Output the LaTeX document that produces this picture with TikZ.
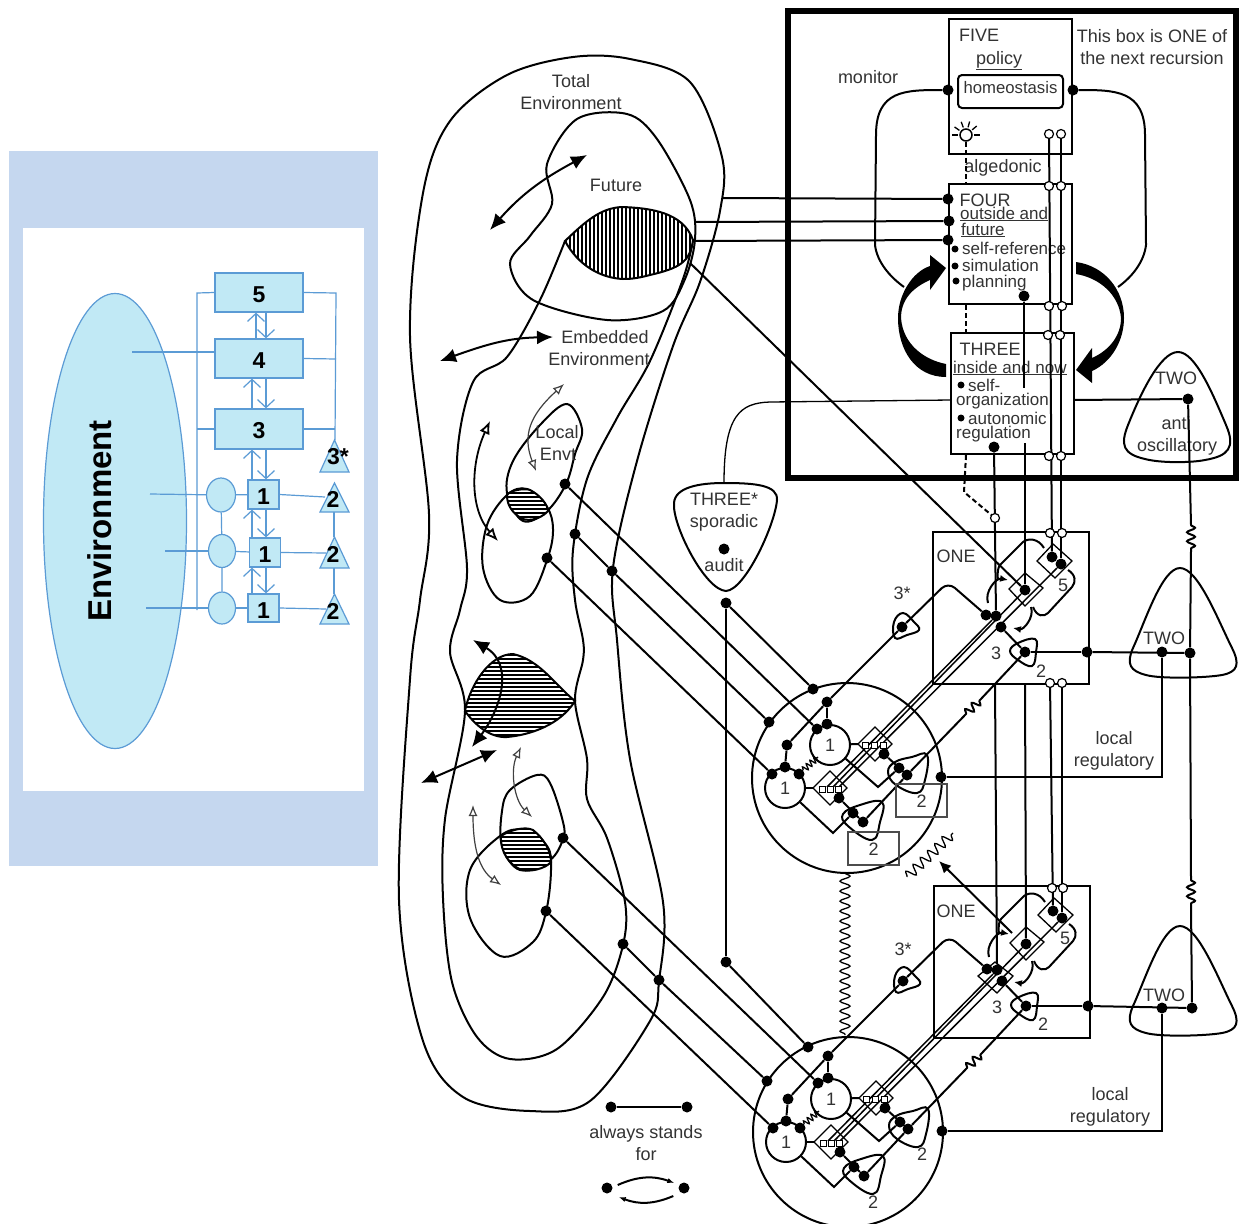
\documentclass[tikz,border=0pt]{standalone}
\usepackage{fontspec}
\setmainfont{Liberation Sans}
\usetikzlibrary{arrows.meta,decorations.pathmorphing,shapes.geometric}
\definecolor{panelblue}{HTML}{C5D7EF}
\definecolor{boxblue}{HTML}{C1E9F5}
\definecolor{lineblue}{HTML}{5B9BD5}
\begin{document}
\begin{tikzpicture}[x=1pt,y=-1pt,>=Latex,
wire/.style={line width=2pt},
thinwire/.style={line width=1.3pt},
rail/.style={line width=1.5pt},
stripe/.style={line width=1.8pt},
alg/.style={line width=2pt,dash pattern=on 5pt off 3pt},
blob/.style={circle,fill=black,inner sep=0pt,minimum size=11pt},
hollow/.style={circle,draw,fill=white,line width=1.2pt,inner sep=0pt,minimum size=9pt},
sysbox/.style={draw,line width=2pt,fill=white,inner sep=0pt},
lbl/.style={font=\fontsize{18}{20}\selectfont,text=black!80,inner sep=0pt,text height=17pt,text depth=4pt},
tight/.style={font=\fontsize{17}{19}\selectfont,text=black!80,inner sep=0pt,anchor=base west},
bigarrow/.style={line width=2pt,{Latex[length=16pt,width=14pt]}-{Latex[length=16pt,width=14pt]}},
openbig/.style={line width=1.8pt,{Latex[open,length=13pt,width=11pt]}-{Latex[open,length=13pt,width=11pt]}},
openarrow/.style={line width=1.2pt,draw=black!75,{Latex[open,length=11pt,width=9pt]}-{Latex[open,length=11pt,width=9pt]}},
spring/.style={decoration={snake,segment length=9pt,amplitude=4pt}},
bluebox/.style={draw=lineblue,line width=1.2pt,fill=boxblue,inner sep=0pt,font=\fontsize{23}{25}\bfseries\selectfont,text height=20pt},
blueball/.style={draw=lineblue,line width=1.2pt,fill=boxblue,ellipse,inner sep=0pt},
blueline/.style={draw=lineblue,line width=1.2pt},
barb/.style={draw=lineblue,line width=1.2pt,-{Straight Barb[length=8pt,width=17pt]}},
bluetext/.style={font=\fontsize{23}{25}\bfseries\selectfont,inner sep=0pt}]
\useasboundingbox (0,0) rectangle (1244,1223);
\fill[white] (0,0) rectangle (1244,1223);
% left panel
\fill[panelblue] (9,151) rectangle (378,866);
\fill[white] (23,228) rectangle (364,791);
\node[blueball,minimum width=143pt,minimum height=455pt] (env) at (115,521) {};
\node[rotate=90,font=\fontsize{33}{35}\bfseries\selectfont,inner sep=0pt] (envtext) at (100,521) {Environment};
\node[bluebox,minimum width=88pt,minimum height=39pt] (box5) at (259,292.5) {5};
\node[bluebox,minimum width=88pt,minimum height=39pt] (box4) at (259,358.5) {4};
\node[bluebox,minimum width=88pt,minimum height=40pt] (box3) at (259,429) {3};
\node[bluebox,minimum width=31pt,minimum height=29pt] (sq1) at (263.5,494.5) {1};
\node[bluebox,minimum width=31pt,minimum height=29pt] (sq2) at (265,552.5) {1};
\node[bluebox,minimum width=31pt,minimum height=28pt] (sq3) at (263.5,608) {1};
\node[blueball,minimum width=29pt,minimum height=34pt] (cir1) at (221,495) {};
\node[blueball,minimum width=27pt,minimum height=33pt] (cir2) at (222,551) {};
\node[blueball,minimum width=27pt,minimum height=32pt] (cir3) at (222,608) {};
\foreach \nm/\px/\py in {e4/132/352,e1/150/494,e2/165/551,e3/146/608,busa/197/293,busb/197/610,busc/197/429,
  busd/336/293,buse/335/440,busf/336/359,busg/335/429,tria/325/497,trib/326/553,tric/326/609,
  tv1/334/512,tv2/334/537,tv3/334/568,tv4/334/594}
  \coordinate (\nm) at (\px,\py);
\draw[blueline] (e4) -- (box4.west |- e4);
\draw[blueline] (e1) -- (cir1);
\draw[blueline] (e2) -- (cir2);
\draw[blueline] (e3) -- (cir3);
\draw[blueline] (box5.west) -- (busa) -- (busb);
\draw[blueline] (busc) -- (box3.west);
\draw[blueline] (box5.east) -- (busd) -- (buse);
\draw[blueline] (box4.east) -- (busf);
\draw[blueline] (box3.east) -- (busg);
\draw[blueline] (cir1) -- (cir2) -- (cir3);
\draw[blueline] (cir1) -- (sq1);
\draw[blueline] (cir2) -- (sq2);
\draw[blueline] (cir3) -- (sq3);
\draw[blueline] (sq1.east) -- (tria);
\draw[blueline] (sq2.east) -- (trib);
\draw[blueline] (sq3.east) -- (tric);
\draw[blueline] (tv1) -- (tv2);
\draw[blueline] (tv3) -- (tv4);
\foreach \lo/\hi/\up/\dn in {box4/box5/256/266,box3/box4/252/266,sq1/box3/252/266,sq2/sq1/252/266,sq3/sq2/252/266}{
  \draw[barb] (\up,0 |- \lo.north) -- (\up,0 |- \hi.south);
  \draw[barb] (\dn,0 |- \hi.south) -- (\dn,0 |- \lo.north);
}
\foreach \py/\hy in {472/32,512/29,568/31,624/30}
  \draw[draw=lineblue,line width=1.2pt,fill=boxblue] (320,\py) -- (334.5,\py-\hy) -- (349,\py) -- cycle;
\node[bluetext] (t3star) at (338,457) {3*};
\node[bluetext] (t2a) at (333,499) {2};
\node[bluetext] (t2b) at (333,554) {2};
\node[bluetext] (t2c) at (333,611) {2};
% environments
\draw[wire] plot[smooth cycle,tension=.55] coordinates {(573,57) (630,59) (690,82) (722,157) (720,211) (700,282) (673,346) (637,461) (613,568) (617,640) (630,759) (663,902) (659,981) (650,1021) (590,1101) (530,1111) (463,1097) (423,1041) (399,900) (410,679) (420,600) (429,514) (410,336) (423,193) (450,121) (507,75)};
\draw[wire] plot[smooth,tension=.55] coordinates {(565,241) (540,300) (507,357) (473,382) (457,461) (467,568) (460,610) (450,652) (465,711) (445,819) (443,898) (452,982) (477,1037) (510,1059) (557,1049) (603,997) (623,945) (625,902) (607,838) (587,799) (587,759) (575,701) (583,660) (583,640) (575,600) (573,550) (587,479) (617,418) (650,361) (683,279) (693,240)};
\draw[wire] plot[smooth cycle,tension=.55] coordinates {(627,114) (577,119) (547,164) (552,204) (530,236) (510,264) (533,300) (607,320) (663,311) (685,279) (695,239) (690,200) (657,139)};
\draw[wire] plot[smooth cycle,tension=.6] coordinates {(567,404) (540,425) (513,461) (507,493) (523,521) (547,511) (566,484) (575,454) (582,429)};
\draw[wire] plot[smooth cycle,tension=.6] coordinates {(507,495) (487,525) (483,568) (500,600) (530,596) (548,557) (553,529) (547,507) (527,489)};
\draw[wire] plot[smooth cycle,tension=.6] coordinates {(537,775) (510,790) (502,811) (502,846) (520,870) (550,860) (563,839) (563,822) (550,783)};
\draw[wire] plot[smooth cycle,tension=.6] coordinates {(500,836) (470,870) (470,918) (500,956) (533,942) (546,912) (551,870) (547,846) (523,830)};
\begin{scope}
\clip (565,241) .. controls (585,222) and (600,208) .. (622,207) .. controls (650,208) and (683,212) .. (693,240) .. controls (690,262) and (680,268) .. (650,275) .. controls (635,279) and (628,279) .. (623,279) .. controls (600,278) and (578,265) .. (565,241) -- cycle;
\fill[white] (560,200) rectangle (700,285);
\foreach \px in {566,570,...,694}
  \draw[stripe] (\px,200) -- (\px,285);
\end{scope}
\draw[wire] (565,241) .. controls (585,222) and (600,208) .. (622,207) .. controls (650,208) and (683,212) .. (693,240) .. controls (690,262) and (680,268) .. (650,275) .. controls (635,279) and (628,279) .. (623,279) .. controls (600,278) and (578,265) .. (565,241) -- cycle;
\begin{scope}
\clip (507,495) .. controls (510,490) and (525,488) .. (530,490) .. controls (540,495) and (548,505) .. (548,511) .. controls (540,520) and (525,523) .. (518,516) .. controls (510,510) and (507,503) .. (507,495) -- cycle;
\fill[white] (500,485) rectangle (555,525);
\foreach \py in {489,493,...,525}
  \draw[stripe] (500,\py) -- (555,\py);
\end{scope}
\draw[wire] (507,495) .. controls (510,490) and (525,488) .. (530,490) .. controls (540,495) and (548,505) .. (548,511) .. controls (540,520) and (525,523) .. (518,516) .. controls (510,510) and (507,503) .. (507,495) -- cycle;
\begin{scope}
\clip (465,711) .. controls (470,685) and (490,654) .. (513,654) .. controls (540,660) and (555,685) .. (575,701) .. controls (560,725) and (530,735) .. (507,737) .. controls (490,738) and (475,725) .. (465,711) -- cycle;
\fill[white] (460,650) rectangle (580,740);
\foreach \py in {655,659,...,740}
  \draw[stripe] (460,\py) -- (580,\py);
\end{scope}
\draw[wire] (465,711) .. controls (470,685) and (490,654) .. (513,654) .. controls (540,660) and (555,685) .. (575,701) .. controls (560,725) and (530,735) .. (507,737) .. controls (490,738) and (475,725) .. (465,711) -- cycle;
\begin{scope}
\clip (501,836) .. controls (510,830) and (525,826) .. (533,830) .. controls (543,838) and (551,850) .. (551,862) .. controls (545,869) and (530,872) .. (522,870) .. controls (510,866) and (500,852) .. (501,836) -- cycle;
\fill[white] (495,825) rectangle (555,875);
\foreach \py in {829,833,...,875}
  \draw[stripe] (495,\py) -- (555,\py);
\end{scope}
\draw[wire] (501,836) .. controls (510,830) and (525,826) .. (533,830) .. controls (543,838) and (551,850) .. (551,862) .. controls (545,869) and (530,872) .. (522,870) .. controls (510,866) and (500,852) .. (501,836) -- cycle;
\foreach \nm/\px/\py in {f1/490/230,f2/587/155,g1/440/361,g2/553/337,h1/473/640,h2/472/747,i1/421/783,i2/497/750,
  j1/490/421,j2/498/541,k1/564/384,k2/536/471,m1/521/747,m2/532/817,n1/473/805,n2/501/885}
  \coordinate (\nm) at (\px,\py);
\draw[bigarrow] (f1) .. controls (525,190) and (550,175) .. (f2);
\draw[bigarrow] (g1) .. controls (490,343) and (510,338) .. (g2);
\draw[bigarrow] (h1) .. controls (515,665) and (500,710) .. (h2);
\draw[bigarrow] (i1) -- (i2);
\draw[openbig] (j1) .. controls (470,465) and (470,510) .. (j2);
\draw[openarrow] (k1) .. controls (530,415) and (522,435) .. (k2);
\draw[openarrow] (m1) .. controls (510,770) and (514,800) .. (m2);
\draw[openarrow] (n1) .. controls (473,850) and (480,870) .. (n2);
\node[lbl] (total1) at (571,81) {Total};
\node[lbl] (total2) at (571,103) {Environment};
\node[lbl] (future) at (616,185) {Future};
\node[lbl] (embed1) at (605,337) {Embedded};
\node[lbl] (embed2) at (599,359) {Environment};
\node[lbl] (local1) at (557,432) {Local};
\node[lbl] (local2) at (558,454) {Envt};
% the box of the next recursion
\node[draw,line width=6.5pt,minimum width=448pt,minimum height=467pt,inner sep=0pt] (nextbox) at (1012,244.5) {};
\node[sysbox,minimum width=123pt,minimum height=135pt] (five) at (1010.5,86.5) {};
\node[sysbox,minimum width=123pt,minimum height=120pt] (four) at (1010.5,244) {};
\node[sysbox,minimum width=123pt,minimum height=121pt] (three) at (1012.5,393.5) {};
\node[draw,line width=2pt,rounded corners=4pt,minimum width=105pt,minimum height=33pt,inner sep=0pt] (homeo) at (1010.5,91.5) {};
\node[inner sep=0pt,font=\fontsize{16.7}{18}\selectfont,text=black!80] (homeotext) at (1010.5,88) {homeostasis};
\node[lbl] (fivetext) at (979,35) {FIVE};
\node[lbl] (policy) at (999,58) {\underline{policy}};
\node[lbl] (monitor) at (868,77) {monitor};
\node[lbl] (note1) at (1152,36) {This box is ONE of};
\node[lbl] (note2) at (1152,58) {the next recursion};
\node[lbl] (algedonic) at (1003,166) {algedonic};
\node[lbl] (fourtext) at (985,200) {FOUR};
\node[tight] (outside) at (960,219) {\underline{outside and}};
\node[tight] (futuretext) at (961,235) {\underline{future}};
\node[tight] (selfref) at (962,254) {self-reference};
\node[tight] (simul) at (962,271) {simulation};
\node[tight] (plan) at (962,287) {planning};
\node[lbl] (threetext) at (990,349) {THREE};
\node[tight] (inside) at (953,373) {\underline{inside and now}};
\node[tight] (selforg) at (968,391) {self-};
\node[tight] (org) at (956,405) {organization};
\node[tight] (auton) at (968,424) {autonomic};
\node[tight] (regul) at (956,438) {regulation};
\foreach \nm/\px/\py in {bu1/955/249,bu2/955/266,bu3/956/281,bu4/961/385,bu5/961/418}
  \node[circle,fill=black,inner sep=0pt,minimum size=7pt] (\nm) at (\px,\py) {};
\node[circle,draw,line width=1.5pt,fill=white,inner sep=0pt,minimum size=12pt] (sun) at (966,135) {};
\foreach \a in {180,215,250,285,320,0}
  \draw[thinwire] (sun)+(\a:8) -- +(\a:14);
\foreach \nm/\px/\py in {mon1/948/90,mon2/1073/90,in1/948/199,in2/949/221,in3/948/240,
  pl/1024/296,au/994/447,two/1188/399}
  \node[blob] (\nm) at (\px,\py) {};
\foreach \nm/\px/\py in {mon3/904/287,mon4/1118/287,fa/723/198,fb/695/222,fc/692/241,
  pl2/1024/388,pl3/1025/443,thl/951/400,thtop/724/483,thr/1073/400,algk/964/492,
  va1/1049/134,vb1/1061/134,va2/1050/683,vb2/1062/683,vc/995/685,vd/1025/685}
  \coordinate (\nm) at (\px,\py);
\draw[wire] (mon1) .. controls (905,90) and (876,90) .. (876,135) -- (875,245) .. controls (877,262) and (890,277) .. (mon3);
\draw[wire] (mon2) .. controls (1115,90) and (1145,90) .. (1145,135) -- (1146,245) .. controls (1144,262) and (1132,277) .. (mon4);
\draw[wire] (fa) -- (in1);
\draw[wire] (fb) -- (in2);
\draw[wire] (fc) -- (in3);
\draw[wire] (pl) -- (pl2);
\draw[thinwire] (thl) -- (770,402) .. controls (740,403) and (724,415) .. (thtop);
\draw[wire] (thr) -- (two);
\fill (946,377) .. controls (915,377) and (898,350) .. (898,318) .. controls (898,295) and (912,272) .. (930,266) -- (930,255) -- (946,268) -- (930,290) -- (930,280) .. controls (912,288) and (901,300) .. (901,318) .. controls (903,345) and (925,360) .. (946,364) -- cycle;
\fill (1076,262) .. controls (1105,266) and (1124,290) .. (1124,318) .. controls (1124,340) and (1112,362) .. (1092,371) -- (1092,383) -- (1076,370) -- (1092,348) -- (1092,358) .. controls (1110,350) and (1121,335) .. (1121,318) .. controls (1119,295) and (1100,278) .. (1076,274) -- cycle;
% the shapes named two and three star
\draw[wire] (1178,352) .. controls (1195,352) and (1212,392) .. (1226,425) .. controls (1236,448) and (1228,456) .. (1205,460) .. controls (1190,463) and (1160,463) .. (1145,459) .. controls (1123,454) and (1120,445) .. (1128,425) .. controls (1140,395) and (1160,352) .. (1178,352) -- cycle;
\node[lbl] (twotext) at (1176,378) {TWO};
\node[lbl] (anti) at (1176,423) {anti};
\node[lbl] (oscill) at (1177,445) {oscillatory};
\draw[wire] (724,483) .. controls (755,483) and (778,485) .. (777,500) .. controls (775,525) and (745,590) .. (726,591) .. controls (705,590) and (672,525) .. (674,503) .. controls (675,487) and (700,483) .. (724,483) -- cycle;
\node[lbl] (starone) at (724,499) {THREE*};
\node[lbl] (startwo) at (724,521) {sporadic};
\node[blob] (audot) at (724,549) {};
\node[lbl] (audit) at (724,565) {audit};
\foreach \dy in {0,358}
  \draw[wire,shift={(0,\dy)}] (1180,568) .. controls (1198,568) and (1218,620) .. (1232,648) .. controls (1240,664) and (1238,672) .. (1222,675) .. controls (1205,678) and (1160,679) .. (1146,675) .. controls (1130,671) and (1126,664) .. (1133,648) .. controls (1145,622) and (1162,568) .. (1180,568) -- cycle;
\node[lbl] (twoa) at (1164,638) {TWO};
\node[lbl] (twob) at (1164,995) {TWO};
% both recursions below
\foreach \u/\dx/\dy in {a/0/0,b/1/354}{
\begin{scope}[shift={(\dx,\dy)}]
\node[draw,line width=2pt,circle,minimum size=190pt,inner sep=0pt] (\u-sys) at (847,778) {};
\node[draw,line width=2pt,minimum width=156pt,minimum height=152pt,inner sep=0pt] (\u-one) at (1011,608) {};
\node[lbl,draw,line width=2pt,circle,fill=white,minimum size=40pt] (\u-c1) at (830,745) {1};
\node[lbl,draw,line width=2pt,circle,fill=white,minimum size=40pt] (\u-c2) at (785,788) {1};
\foreach \nm/\px/\py in {in1/817/729,in2/772/774,up/827/702,cone/827/724,lf/787/745,ctwo/785/767,
  spr/799/774,d3/986/615,d4/996/616,dm/1025/590,d5/1052/557,d6/1061/564,d7/1001/627,d8/1025/652,d9/1087/652,
  st/902/627,low1/884/754,low2/899/768,low3/907/775,low4/839/798,low5/853/813,low6/863/822,out/941/777}
  \node[blob] (\u-\nm) at (\px,\py) {};
\foreach \nm/\px/\py in {apex/948/582,ra/827/787,rb/833/787,rc/839/787,bend1/878/787,bend2/833/833,
  s1/966/714,s2/980/700,s4/818/757,ar1/988/603,ar2/1008/580,ar3/1031/607,ar4/1013/628,c1r/858/744,c2r/813/788}
  \coordinate (\u-\nm) at (\px,\py);
\draw[wire] (\u-lf) -- (\u-up) -- (\u-st);
\draw[wire,rounded corners=9pt] (\u-st) -- (\u-apex) -- (\u-d3);
\draw[wire] (\u-up) -- (\u-cone);
\draw[wire] (\u-lf) -- (\u-ctwo);
\draw[rail] (\u-ra) -- (\u-d4);
\draw[rail] (\u-rb) -- (\u-dm);
\draw[rail] (\u-rc) -- (\u-d6);
\draw[wire] (\u-c1) -- (\u-c1r);
\draw[wire] (\u-c2) -- (\u-c2r);
\draw[wire] (\u-low1) -- (\u-low3);
\draw[wire] (\u-c1) -- (\u-bend1) -- (\u-low2);
\draw[wire] (\u-low4) -- (\u-low6);
\draw[wire] (\u-c2) -- (\u-bend2) -- (\u-low5);
\draw[wire] (\u-low6) -- (\u-low3);
\draw[wire] (\u-low3) -- (\u-s1) decorate[spring] {-- (\u-s2)} -- (\u-d8);
\draw[thinwire] (\u-spr) decorate[decoration={snake,segment length=5pt,amplitude=3pt}] {-- (\u-s4)};
\draw[wire] (\u-d7) -- (\u-d8);
\draw[wire] (\u-d8) -- (\u-d9);
\draw[wire,-{Latex[length=8pt,width=7pt]}] (\u-ar1) to[bend left=60] (\u-ar2);
\draw[wire,-{Latex[length=8pt,width=7pt]}] (\u-ar3) to[bend left=60] (\u-ar4);
% rounded shapes round the two and three star dots
\draw[wire] plot[smooth cycle,tension=.7] coordinates {(903,613) (894,622) (895,638) (907,635) (919,630) (914,622)};
\draw[wire] plot[smooth cycle,tension=.7] coordinates {(1035,639) (1018,643) (1010,651) (1018,660) (1032,666) (1036,652)};
\draw[wire] plot[smooth cycle,tension=.7] coordinates {(927,755) (912,757) (895,762) (888,772) (896,785) (917,793) (925,780)};
\draw[wire] plot[smooth cycle,tension=.7] coordinates {(882,802) (860,805) (843,814) (848,826) (872,840) (880,822)};
\draw[wire] (998,580) .. controls (997,572) and (998,568) .. (1000,565) -- (1023,542) .. controls (1028,538) and (1038,538) .. (1044,548);
\draw[wire] (1068,570) .. controls (1076,575) and (1076,582) .. (1072,587) -- (1048,613) .. controls (1044,617) and (1037,617) .. (1033,607);
% small boxes on the rails
\draw[thinwire] (1053,544) -- (1072,561) -- (1055,578) -- (1037,561) -- cycle;
\draw[thinwire] (1025,573) -- (1043,588) -- (1025,606) -- (1009,589) -- cycle;
\draw[thinwire] (875,727) -- (892,744) -- (875,761) -- (858,744) -- cycle;
\draw[thinwire] (830,771) -- (847,788) -- (830,805) -- (813,788) -- cycle;
\foreach \px in {865,874,883}
  \draw[line width=1pt,fill=white] (\px-3,742) rectangle (\px+3,748);
\foreach \px in {822,830,838}
  \draw[line width=1pt,fill=white] (\px-3,786) rectangle (\px+3,792);
\end{scope}
}
\draw[thinwire] (995,962) -- (1013,976) -- (997,993) -- (978,976) -- cycle;
\foreach \nm/\px/\py in {sp1/845/873,sp2/845/1035,sp3/907/877,sp4/953/833,two1/1191/525,two2/1191/550,
  two3/1191/880,two4/1191/905,tip/939/861,tail/1012/933,hatchend/690/263,algo/995/518}
  \coordinate (\nm) at (\px,\py);
\draw[thinwire] (sp1) decorate[decoration={snake,segment length=10pt,amplitude=5pt}] {-- (sp2)};
\draw[thinwire] (sp3) decorate[decoration={snake,segment length=10pt,amplitude=5pt}] {-- (sp4)};
\node[blob] (twodot) at (1190,653) {};
\node[blob] (twodotb) at (1192,1008) {};
\node[blob] (regdot) at (1162,652) {};
\node[blob] (regdotb) at (1162,1008) {};
\draw[wire] (two) -- (two1) decorate[spring] {-- (two2)} -- (twodot);
\draw[wire] (twodot) -- (two3) decorate[spring] {-- (two4)} -- (twodotb);
\draw[wire] (a-d9) -- (twodot);
\draw[wire] (b-d9) -- (twodotb);
\draw[wire] (a-out) -| (regdot);
\draw[wire] (b-out) -| (regdotb);
\draw[wire,-{Latex[length=12pt,width=11pt]}] (tail) -- (tip);
% inputs from the environments
\foreach \nm/\px/\py in {lca/565/484,lcb/547/558,lcc/575/534,lcd/612/571,lce/563/838,lcf/546/911,lcg/623/944,lch/659/980,aua/726/603,aub/726/962,
  a-top/813/689,a-rim/769/722,b-top/808/1047,b-rim/767/1081}
  \node[blob] (\nm) at (\px,\py) {};
\draw[wire] (aua) -- (aub);
\draw[wire] (aua) -- (a-top);
\draw[wire] (aub) -- (b-top);
\draw[wire] (lca) -- (a-in1);
\draw[wire] (lcb) -- (a-in2);
\draw[wire] (lcc) -- (lcd) -- (a-rim);
\draw[wire] (lce) -- (b-in1);
\draw[wire] (lcf) -- (b-in2);
\draw[wire] (lcg) -- (lch) -- (b-rim);
\draw[wire] (hatchend) -- (a-dm);
% the algedonic line and the long verticals
\draw[alg] (sun) -- (sun |- four.north);
\draw[alg] (sun |- four.south) -- (sun |- three.north);
\draw[alg] (sun |- three.south) -- (algk) -- (algo);
\draw[wire] (va1) -- (a-d5);
\draw[wire] (vb1) -- (a-d6);
\draw[wire] (va2) -- (b-d5);
\draw[wire] (vb2) -- (b-d6);
\draw[wire] (au) -- (a-d4);
\draw[wire] (vc) -- (b-d4);
\draw[wire] (pl3) -- (a-dm);
\draw[wire] (vd) -- (b-dm);
\foreach \px/\py in {1049/134,1061/134,1049/186,1061/186,1049/306,1062/306,1048/335,1060/335,1049/456,1061/456,1050/533,1062/533,995/518,1050/683,1062/683,1052/888,1063/888}
  \node[hollow] (hole-\px-\py) at (\px,\py) {};
% labels below
\node[lbl] (onea) at (956,556) {ONE};
\node[lbl] (oneb) at (956,911) {ONE};
\node[lbl] (stara) at (902,593) {3*};
\node[lbl] (starb) at (903,949) {3*};
\node[lbl] (threea) at (996,653) {3};
\node[lbl] (threeb) at (997,1007) {3};
\node[lbl] (fivea) at (1063,585) {5};
\node[lbl] (fiveb) at (1065,938) {5};
\node[lbl] (twoaa) at (1041,671) {2};
\node[lbl] (twobb) at (1043,1024) {2};
\node[lbl,draw=black!70,line width=1.2pt,minimum width=51pt,minimum height=33pt] (recta) at (921.5,800.5) {2};
\node[lbl,draw=black!70,line width=1.2pt,minimum width=51pt,minimum height=33pt] (rectb) at (873.5,848.5) {2};
\node[lbl] (twoc) at (922,1154) {2};
\node[lbl] (twod) at (873,1202) {2};
\node[lbl] (locala) at (1114,738) {local};
\node[lbl] (regula) at (1114,760) {regulatory};
\node[lbl] (localb) at (1110,1094) {local};
\node[lbl] (regulb) at (1110,1116) {regulatory};
% legend
\node[blob] (lega) at (611,1107) {};
\node[blob] (legb) at (687,1107) {};
\node[blob] (legc) at (607,1188) {};
\node[blob] (legd) at (684,1188) {};
\draw[wire] (lega) -- (legb);
\draw[wire,-{Latex[length=7pt]}] ([xshift=5pt,yshift=3pt]legc.east) to[bend left=22] ([xshift=-4pt,yshift=5pt]legd.west);
\draw[wire,-{Latex[length=7pt]}] ([xshift=-5pt,yshift=-8pt]legd.west) to[bend left=22] ([xshift=6pt,yshift=-9pt]legc.east);
\node[lbl] (always) at (646,1132) {always stands};
\node[lbl] (forword) at (646,1154) {for};
\end{tikzpicture}
\end{document}
